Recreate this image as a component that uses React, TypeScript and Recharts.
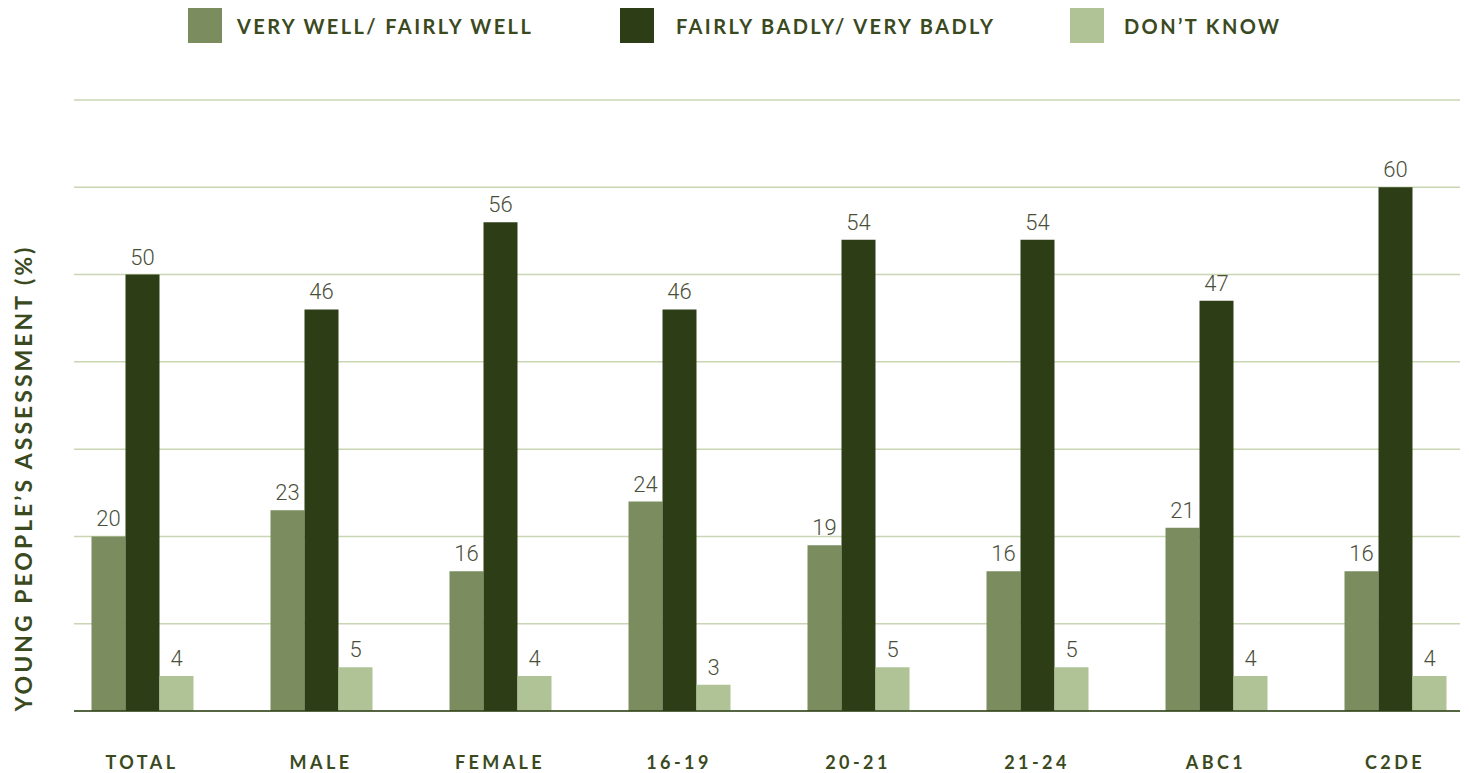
import React from 'react';
import { BarChart, Bar, XAxis, YAxis, CartesianGrid, LabelList, Legend } from 'recharts';

const CATEGORIES = ['TOTAL', 'MALE', 'FEMALE', '16-19', '20-21', '21-24', 'ABC1', 'C2DE'];
const VERY_WELL = [20, 23, 16, 24, 19, 16, 21, 16];
const FAIRLY_BADLY = [50, 46, 56, 46, 54, 54, 47, 60];
const DONT_KNOW = [4, 5, 4, 3, 5, 5, 4, 4];
const Y_TICKS = [0, 10, 20, 30, 40, 50, 60, 70];

const SERIES = [
  { key: 'veryWell', name: 'VERY WELL/ FAIRLY WELL', color: '#7B8D5F' },
  { key: 'badly', name: 'FAIRLY BADLY/ VERY BADLY', color: '#2D3E16' },
  { key: 'dontKnow', name: 'DON\u2019T KNOW', color: '#AFC396' },
];

const Y_LABEL = 'YOUNG PEOPLE\u2019S ASSESSMENT (%)';

const data = CATEGORIES.map((name, i) => ({
  name,
  veryWell: VERY_WELL[i],
  badly: FAIRLY_BADLY[i],
  dontKnow: DONT_KNOW[i],
}));

const TEXT_DARK = '#3B4A1E';
const FONT = 'Lato, "Open Sans", sans-serif';

// legend swatch left edges and swatch-to-text gaps
const LEGEND_X = [188, 620, 1070];
const LEGEND_GAP = [15, 22, 20];

function LegendContent() {
  return (
    <div style={{ position: 'relative', width: 1469, height: 50 }}>
      {SERIES.map((s, i) => (
        <div
          key={s.key}
          style={{ position: 'absolute', left: LEGEND_X[i], top: 8, display: 'flex', alignItems: 'center' }}
        >
          <div style={{ width: 34, height: 35, background: s.color }} />
          <span
            style={{
              marginLeft: LEGEND_GAP[i],
              fontFamily: FONT,
              fontWeight: 700,
              fontSize: 20,
              letterSpacing: 2.4,
              color: TEXT_DARK,
            }}
          >
            {s.name}
          </span>
        </div>
      ))}
    </div>
  );
}

function CategoryTick(props: any) {
  const { x, y, payload } = props;
  return (
    <text
      x={x}
      y={y + 45}
      textAnchor="middle"
      dominantBaseline="middle"
      fontFamily={FONT}
      fontWeight={700}
      fontSize={18}
      letterSpacing={3.4}
      fill={TEXT_DARK}
    >
      {payload.value}
    </text>
  );
}

export default function App() {
  return (
    <div style={{ position: 'absolute', left: 0, top: 0, width: 1469, height: 773, background: '#fff' }}>
      <BarChart
        width={1469}
        height={773}
        data={data}
        margin={{ top: 50, right: 9, bottom: 0, left: 74 }}
        barSize={34}
        barGap={0}
      >
        <CartesianGrid vertical={false} stroke="#C9D6B4" strokeWidth={1.5} />
        <XAxis
          dataKey="name"
          height={62}
          padding={{ left: -21.5, right: -24.5 }}
          axisLine={{ stroke: '#2D3E16', strokeWidth: 1.5 }}
          tickLine={false}
          tick={<CategoryTick />}
          interval={0}
        />
        <YAxis hide domain={[0, 70]} ticks={Y_TICKS} />
        <Legend verticalAlign="top" align="left" height={50} content={<LegendContent />} wrapperStyle={{ top: 0, left: 0 }} />
        {SERIES.map((s) => (
          <Bar key={s.key} dataKey={s.key} name={s.name} fill={s.color} isAnimationActive={false}>
            <LabelList
              dataKey={s.key}
              position="top"
              offset={10}
              fill="#4A4F3A"
              fontFamily="Roboto, sans-serif"
              fontWeight={300}
              fontSize={22}
            />
          </Bar>
        ))}
      </BarChart>
      <div
        style={{
          position: 'absolute',
          left: 23,
          top: 478,
          transform: 'translate(-50%, -50%) rotate(-90deg)',
          whiteSpace: 'nowrap',
          fontFamily: FONT,
          fontWeight: 700,
          fontSize: 23,
          letterSpacing: 3,
          color: TEXT_DARK,
        }}
      >
        {Y_LABEL}
      </div>
    </div>
  );
}
